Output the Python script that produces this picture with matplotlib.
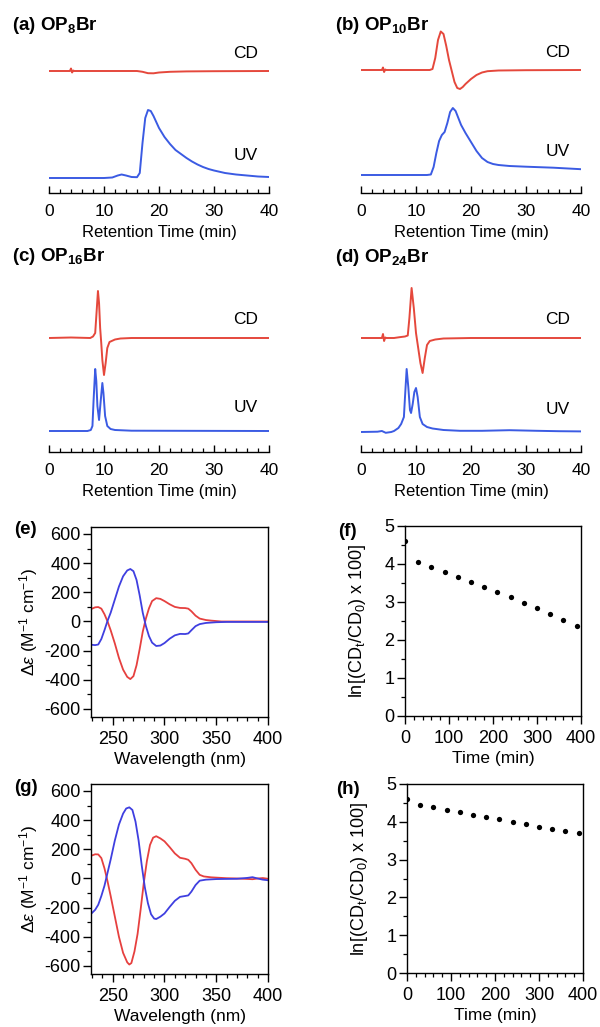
import matplotlib
matplotlib.use("Agg")
import matplotlib.pyplot as plt
from matplotlib.ticker import MultipleLocator
import numpy as np

plt.rcParams['font.family'] = ['Liberation Sans', 'DejaVu Sans']
plt.rcParams['mathtext.fontset'] = 'custom'
plt.rcParams['mathtext.rm'] = 'Liberation Sans'
plt.rcParams['mathtext.it'] = 'Liberation Sans:italic'
plt.rcParams['mathtext.bf'] = 'Liberation Sans:bold'
plt.rcParams['axes.unicode_minus'] = False

# ---------------- data: chromatograms (retention time in min, signal in arbitrary units) ----------
a_cd_t = [0, 3.8, 4.0, 4.2, 4.4, 4.6, 16, 17, 18, 19, 20, 22, 25, 30, 40]
a_cd_y = [0, 0, 2.5, -1.5, 0.5, 0, 0, -0.8, -2.2, -2.3, -1.5, -0.8, -0.4, -0.2, 0]
a_uv_t = [0, 5, 10, 11.5, 12.5, 13.2, 14, 15, 16, 16.5, 17, 17.5, 18, 18.5, 19, 20, 21, 22, 23, 24,
          25, 26, 27, 28, 29, 30, 32, 34, 36, 38, 40]
a_uv_y = [0, 0, 0, 0.5, 2.5, 3.5, 2.5, 1, 0.8, 5, 35, 60, 68, 67, 62, 50, 41, 34, 28, 24,
          20, 16.5, 13.5, 11, 9, 7.5, 5, 3.5, 2.5, 1.5, 1]

b_cd_t = [0, 3.8, 4.0, 4.2, 4.4, 4.6, 12.5, 13, 13.5, 14, 14.5, 15, 15.5, 16, 16.5, 17, 17.5, 18,
          18.5, 19, 20, 21, 22, 23, 25, 30, 40]
b_cd_y = [0, 0, 2.5, -2, 0.5, 0, 0, 1, 12, 30, 38.5, 36, 24, 10, -1, -12, -18, -19,
          -17, -14, -9, -5, -2.5, -1.2, -0.5, -0.2, 0]
b_uv_t = [0, 12, 12.7, 13.2, 13.7, 14.2, 14.7, 15.2, 15.7, 16.2, 16.7, 17.2, 17.7, 18.2, 19, 20,
          21, 22, 23, 24, 25, 27, 30, 35, 40]
b_uv_y = [0, 0, 0.5, 8, 22, 34, 40, 43, 52, 63, 67, 64, 57, 50, 42, 33,
          24, 17, 13, 11, 10, 9, 8.3, 7.3, 5.8]

c_cd_t = [0, 4, 7.5, 8.0, 8.4, 8.7, 8.9, 9.1, 9.3, 9.5, 9.7, 10.0, 10.3, 10.6, 11, 12, 13, 15, 40]
c_cd_y = [0, 0.5, 0, 1.5, 5, 30, 47, 35, 10, -5, -22, -37, -25, -10, -4, -1.5, -0.5, 0, 0]
c_uv_t = [0, 7, 7.6, 7.9, 8.1, 8.4, 8.6, 8.8, 9.1, 9.4, 9.7, 9.9, 10.2, 10.6, 11.2, 12, 15, 40]
c_uv_y = [0, 0, 1, 5, 30, 62, 50, 25, 11, 30, 48, 38, 15, 5, 2, 1, 0.3, 0]

d_cd_t = [0, 3.8, 4.0, 4.2, 4.4, 4.6, 6, 7, 8, 8.5, 8.8, 9.2, 9.6, 10.0, 10.4, 10.8, 11.2, 11.6,
          12.0, 12.5, 13.5, 15, 20, 40]
d_cd_y = [0, 0, 4, -3, 0.5, 0, 0, 0.8, 1.5, 2.5, 20, 50, 30, 5, -10, -25, -35, -20,
          -7, -3, -1.5, -0.5, 0, 0]
d_uv_t = [0, 3, 3.8, 4.5, 5.5, 6, 6.8, 7.3, 7.8, 8.0, 8.3, 8.6, 8.9, 9.1, 9.4, 9.7, 10.0, 10.3,
          10.7, 11.2, 12, 13, 15, 18, 22, 27, 32, 36, 40]
d_uv_y = [0, 0.3, 1, -0.8, 0, 1, 4, 8, 15, 35, 63, 45, 22, 19, 28, 40, 44, 35,
          15, 8, 5, 3.5, 2, 1.2, 1.2, 1.8, 1.2, 0.8, 0.6]

# ---------------- data: CD spectra (wavelength nm, delta epsilon) ----------------
e_red_wl = [230, 233, 236, 239, 242, 245, 248, 252, 256, 260, 264, 267, 270, 273, 276, 279, 282,
            285, 288, 292, 296, 300, 305, 310, 315, 320, 323, 326, 330, 334, 340, 345, 350, 355,
            360, 400]
e_red_de = [88, 97, 99, 88, 50, 0, -60, -150, -250, -330, -380, -395, -375, -300, -190, -70, 20,
            90, 140, 160, 155, 140, 118, 100, 93, 92, 88, 70, 40, 20, 10, 6, 3, 0,
            0, 0]
e_blue_wl = [230, 233, 236, 239, 242, 245, 248, 252, 256, 260, 264, 267, 270, 273, 276, 279, 282,
             285, 288, 292, 296, 300, 305, 310, 315, 320, 323, 326, 330, 334, 340, 350, 360, 400]
e_blue_de = [-160, -162, -158, -120, -60, 5, 60, 150, 240, 310, 350, 360, 345, 285, 180, 60, -30,
             -100, -145, -168, -165, -148, -118, -95, -85, -86, -82, -60, -32, -18, -10, -5, -3, -3]

g_red_wl = [230, 233, 236, 239, 242, 245, 248, 252, 256, 260, 264, 266, 268, 271, 274, 277, 280,
            283, 286, 289, 292, 296, 300, 305, 310, 315, 320, 323, 326, 330, 334, 338, 345, 350,
            360, 370, 380, 385, 390, 395, 400]
g_red_de = [158, 166, 165, 140, 70, -20, -120, -260, -400, -510, -575, -590, -580, -500, -380, -210,
            -30, 120, 230, 280, 290, 275, 255, 215, 172, 142, 135, 128, 105, 60, 25, 14, 8, 6,
            2, 0, -3, -5, 0, 3, -2]
g_blue_wl = [230, 233, 236, 239, 242, 245, 248, 252, 256, 260, 263, 266, 269, 272, 275, 278, 281,
             284, 287, 290, 292, 296, 300, 305, 310, 315, 320, 323, 326, 330, 334, 340, 350, 360,
             370, 380, 385, 390, 395, 400]
g_blue_de = [-236, -215, -180, -120, -50, 40, 130, 260, 370, 445, 480, 488, 470, 390, 260, 90, -60,
             -170, -245, -275, -278, -262, -240, -195, -153, -126, -120, -116, -90, -45, -15, -8,
             -4, -3, -2, 4, 9, 0, -8, -12]

# ---------------- data: kinetics ----------------
f_time = [0, 30, 60, 90, 120, 150, 180, 210, 240, 270, 300, 330, 360, 390]
f_lncd = [4.60, 4.06, 3.91, 3.78, 3.65, 3.52, 3.39, 3.26, 3.12, 2.98, 2.84, 2.68, 2.53, 2.37]
h_time = [0, 30, 60, 90, 120, 150, 180, 210, 240, 270, 300, 330, 360, 390]
h_lncd = [4.61, 4.45, 4.38, 4.32, 4.26, 4.19, 4.13, 4.07, 4.00, 3.94, 3.87, 3.82, 3.76, 3.71]

chrom_ticks = [0, 10, 20, 30, 40]

RED = '#e5483c'
BLUE = '#3b5be3'
SRED = '#e6403f'
SBLUE = '#3f3fe0'

W, H = 600, 1027
fig = plt.figure(figsize=(W / 100, H / 100), dpi=100)


def add_ax(l, t, r, b):
    return fig.add_axes([l / W, 1 - b / H, (r - l) / W, (b - t) / H])


def chrom(l, r, axis_y, cd_t, cd_y, uv_t, uv_y, cd_off, uv_off, title, title_x, title_y):
    ax = add_ax(l, axis_y - 170, r, axis_y)
    ax.plot(cd_t, np.array(cd_y) + cd_off, color=RED, lw=1.4)
    ax.plot(uv_t, np.array(uv_y) + uv_off, color=BLUE, lw=1.4)
    ax.set_xlim(0, 40)
    ax.set_ylim(0, 170)
    for s in ['top', 'left', 'right']:
        ax.spines[s].set_visible(False)
    ax.spines['bottom'].set_linewidth(1.0)
    ax.set_yticks([])
    ax.set_xticks(chrom_ticks)
    ax.xaxis.set_minor_locator(MultipleLocator(2))
    ax.tick_params(axis='x', which='major', direction='in', length=5, width=1, labelsize=12.5, pad=8)
    ax.tick_params(axis='x', which='minor', direction='in', length=3, width=0.9)
    ax.set_xlabel('Retention Time (min)', fontsize=12, labelpad=4.5)
    ax.text(0.895, cd_off + 18, 'CD', transform=ax.get_yaxis_transform(), fontsize=12.5,
            ha='center', va='center')
    ax.text(0.895, uv_off + 23, 'UV', transform=ax.get_yaxis_transform(), fontsize=12.5,
            ha='center', va='center')
    fig.text(title_x / W, 1 - title_y / H, title, fontsize=13.5, fontweight='bold',
             ha='left', va='center')
    return ax


chrom(49, 269, 192.5, a_cd_t, a_cd_y, a_uv_t, a_uv_y, 121.5, 14.5,
      r'(a) OP$_\mathbf{8}$Br', 12, 25)
chrom(361, 581, 192.5, b_cd_t, b_cd_y, b_uv_t, b_uv_y, 122.5, 17.5,
      r'(b) OP$_\mathbf{10}$Br', 335, 26)
chrom(49, 269, 452, c_cd_t, c_cd_y, c_uv_t, c_uv_y, 114, 21,
      r'(c) OP$_\mathbf{16}$Br', 12, 256)
chrom(361, 581, 452, d_cd_t, d_cd_y, d_uv_t, d_uv_y, 114, 20,
      r'(d) OP$_\mathbf{24}$Br', 335, 257)


def style_box(ax):
    ax.tick_params(which='major', direction='out', length=5.5, width=1, labelsize=13, pad=2)
    ax.tick_params(which='minor', direction='out', length=3.2, width=0.9)
    ax.tick_params(axis='x', which='major', pad=4.5)
    for s in ax.spines.values():
        s.set_linewidth(1.0)


def spectrum(t, b, red_wl, red_de, blue_wl, blue_de, letter, ly):
    ax = add_ax(91, t, 268, b)
    ax.plot(red_wl, red_de, color=SRED, lw=1.3)
    ax.plot(blue_wl, blue_de, color=SBLUE, lw=1.3)
    ax.set_xlim(229, 400)
    ax.set_ylim(-655, 648)
    ax.set_xticks([250, 300, 350, 400])
    ax.xaxis.set_minor_locator(MultipleLocator(10))
    ax.set_yticks([-600, -400, -200, 0, 200, 400, 600])
    ax.yaxis.set_minor_locator(MultipleLocator(100))
    style_box(ax)
    ax.set_xlabel('Wavelength (nm)', fontsize=12.5, labelpad=3)
    ax.set_ylabel(r'$\Delta\varepsilon$ (M$^{-1}$ cm$^{-1}$)', fontsize=12.5, labelpad=3)
    fig.text(14 / W, 1 - ly / H, letter, fontsize=13.5, fontweight='bold', ha='left', va='center')
    return ax


spectrum(527, 717, e_red_wl, e_red_de, e_blue_wl, e_blue_de, '(e)', 530)
spectrum(784, 974, g_red_wl, g_red_de, g_blue_wl, g_blue_de, '(g)', 788)


def kinetics(l, t, r, b, tt, yy, letter, lx, ly):
    ax = add_ax(l, t, r, b)
    ax.plot(tt, yy, 'o', color='black', ms=3.8, mec='none')
    ax.set_xlim(0, 400)
    ax.set_ylim(0, 5)
    ax.set_xticks([0, 100, 200, 300, 400])
    ax.xaxis.set_minor_locator(MultipleLocator(20))
    ax.set_yticks([0, 1, 2, 3, 4, 5])
    ax.yaxis.set_minor_locator(MultipleLocator(0.5))
    style_box(ax)
    ax.set_xlabel('Time (min)', fontsize=12.5, labelpad=3)
    ax.set_ylabel(r'ln[(CD$_\mathrm{t}$/CD$_\mathrm{0}$) x 100]', fontsize=13, labelpad=12)
    fig.text(lx / W, 1 - ly / H, letter, fontsize=13.5, fontweight='bold', ha='left', va='center')
    return ax


kinetics(405, 526, 581, 716, f_time, f_lncd, '(f)', 338, 532)
kinetics(407, 784, 583, 973, h_time, h_lncd, '(h)', 336, 790)

fig.savefig('out.png', dpi=100)
